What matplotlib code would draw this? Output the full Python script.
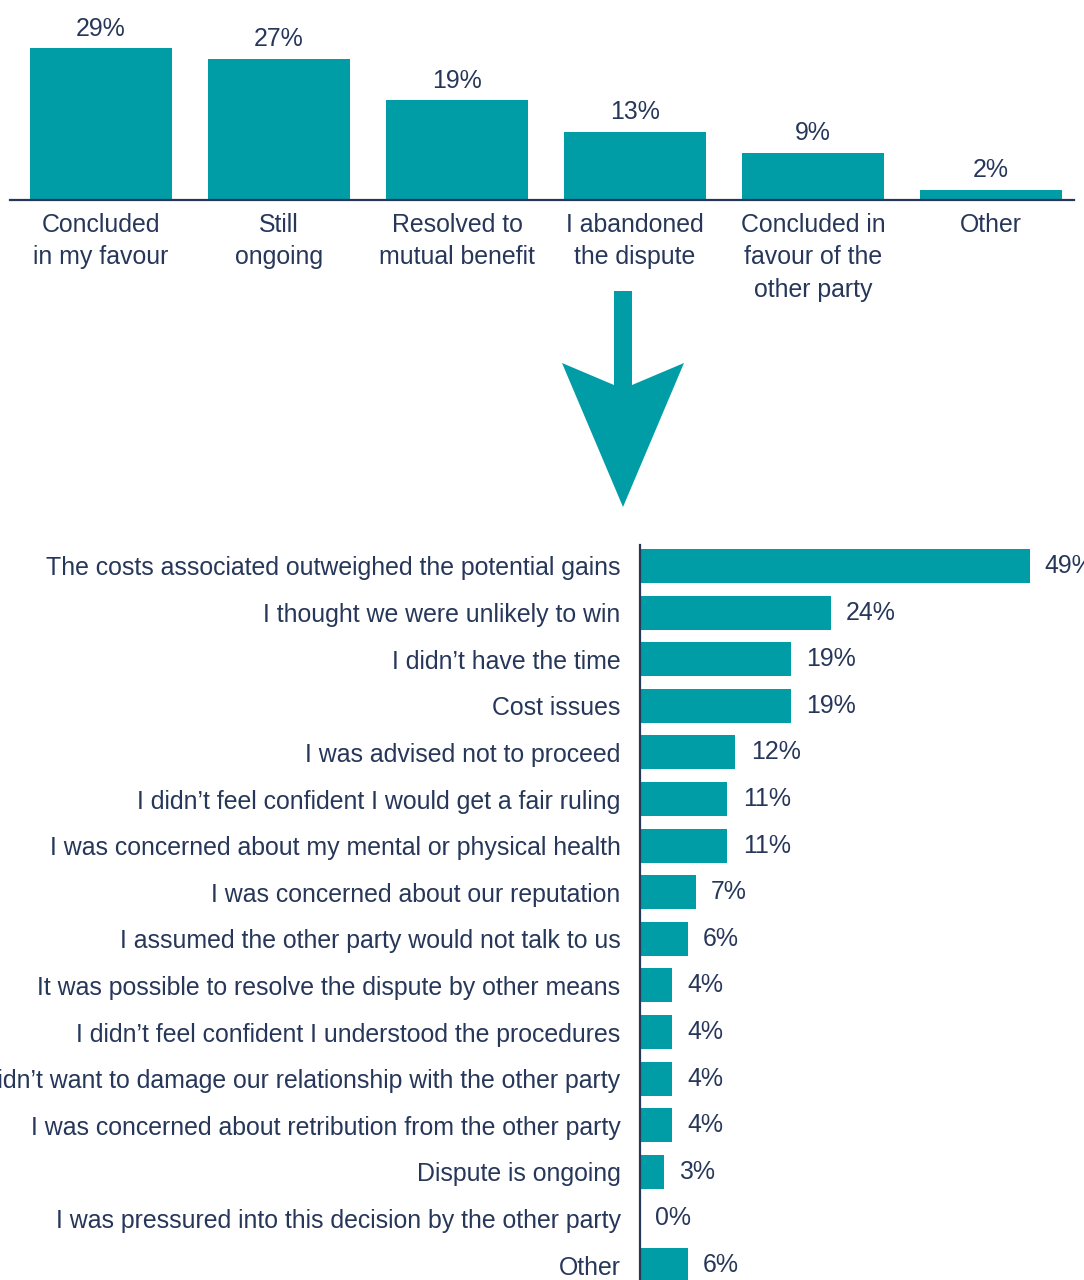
import matplotlib
matplotlib.use("Agg")
import matplotlib.pyplot as plt
from matplotlib.patches import Polygon

# Outcome of disputes
outcome_labels = [
    "Concluded\nin my favour",
    "Still\nongoing",
    "Resolved to\nmutual benefit",
    "I abandoned\nthe dispute",
    "Concluded in\nfavour of the\nother party",
    "Other",
]
outcome_values = [29, 27, 19, 13, 9, 2]

# Reasons for abandoning the dispute
reason_labels = [
    "The costs associated outweighed the potential gains",
    "I thought we were unlikely to win",
    "I didn\u2019t have the time",
    "Cost issues",
    "I was advised not to proceed",
    "I didn\u2019t feel confident I would get a fair ruling",
    "I was concerned about my mental or physical health",
    "I was concerned about our reputation",
    "I assumed the other party would not talk to us",
    "It was possible to resolve the dispute by other means",
    "I didn\u2019t feel confident I understood the procedures",
    "I didn\u2019t want to damage our relationship with the other party",
    "I was concerned about retribution from the other party",
    "Dispute is ongoing",
    "I was pressured into this decision by the other party",
    "Other",
]
reason_values = [49, 24, 19, 19, 12, 11, 11, 7, 6, 4, 4, 4, 4, 3, 0, 6]

TEAL = "#019DA7"
NAVY = "#27375A"
FONT = "Liberation Sans"
FS = 17.9

plt.rcParams["font.family"] = [FONT, "DejaVu Sans"]

W, H = 1084, 1280
fig = plt.figure(figsize=(W / 100, H / 100), dpi=100)

def px_rect(x0, y0, x1, y1):
    """Axes rectangle from pixel box (origin top-left)."""
    return [x0 / W, 1 - y1 / H, (x1 - x0) / W, (y1 - y0) / H]

# ---- Top: column chart of outcomes ----
ax1 = fig.add_axes(px_rect(10, 0, 1074, 200))
xs = list(range(len(outcome_values)))
ax1.bar(xs, outcome_values, width=0.8, color=TEAL)
ax1.set_xlim(-0.511, 5.466)
ax1.set_ylim(0, 200 / 5.24)
for s in ("top", "right", "left"):
    ax1.spines[s].set_visible(False)
ax1.spines["bottom"].set_color(NAVY)
ax1.spines["bottom"].set_linewidth(1.6)
ax1.set_yticks([])
ax1.set_xticks(xs)
ax1.set_xticklabels(outcome_labels, fontsize=FS, color=NAVY, linespacing=1.45, va="top")
ax1.tick_params(axis="x", length=0, pad=9)
for x, v in zip(xs, outcome_values):
    ax1.annotate(f"{v}%", (x, v), xytext=(0, 9), textcoords="offset points",
                 ha="center", va="baseline", fontsize=FS, color=NAVY)

# ---- Arrow linking "I abandoned the dispute" to the reasons ----
arrow_px = [(614, 291), (632, 291), (632, 385), (684, 363),
            (623, 507), (562, 363), (614, 385)]
fig.patches.append(Polygon([(x / W, 1 - y / H) for x, y in arrow_px],
                           closed=True, facecolor=TEAL, edgecolor="none",
                           transform=fig.transFigure))

# ---- Bottom: horizontal bars of reasons ----
ax2 = fig.add_axes(px_rect(640, 545, 1084, 1280))
ys = list(range(len(reason_values)))
ax2.barh(ys, reason_values, height=0.73, color=TEAL)
ax2.set_xlim(0, 444 / 7.95)
ax2.set_ylim(15.32, -0.45)
for s in ("top", "right", "bottom"):
    ax2.spines[s].set_visible(False)
ax2.spines["left"].set_color(NAVY)
ax2.spines["left"].set_linewidth(1.6)
ax2.set_xticks([])
ax2.set_yticks(ys)
ax2.set_yticklabels(reason_labels, fontsize=FS, color=NAVY)
ax2.tick_params(axis="y", length=0, pad=14)
for y, v in zip(ys, reason_values):
    ax2.annotate(f"{v}%", (v, y), xytext=(11, 0), textcoords="offset points",
                 ha="left", va="center", fontsize=FS, color=NAVY,
                 annotation_clip=False)

fig.savefig("out.png", dpi=100)
